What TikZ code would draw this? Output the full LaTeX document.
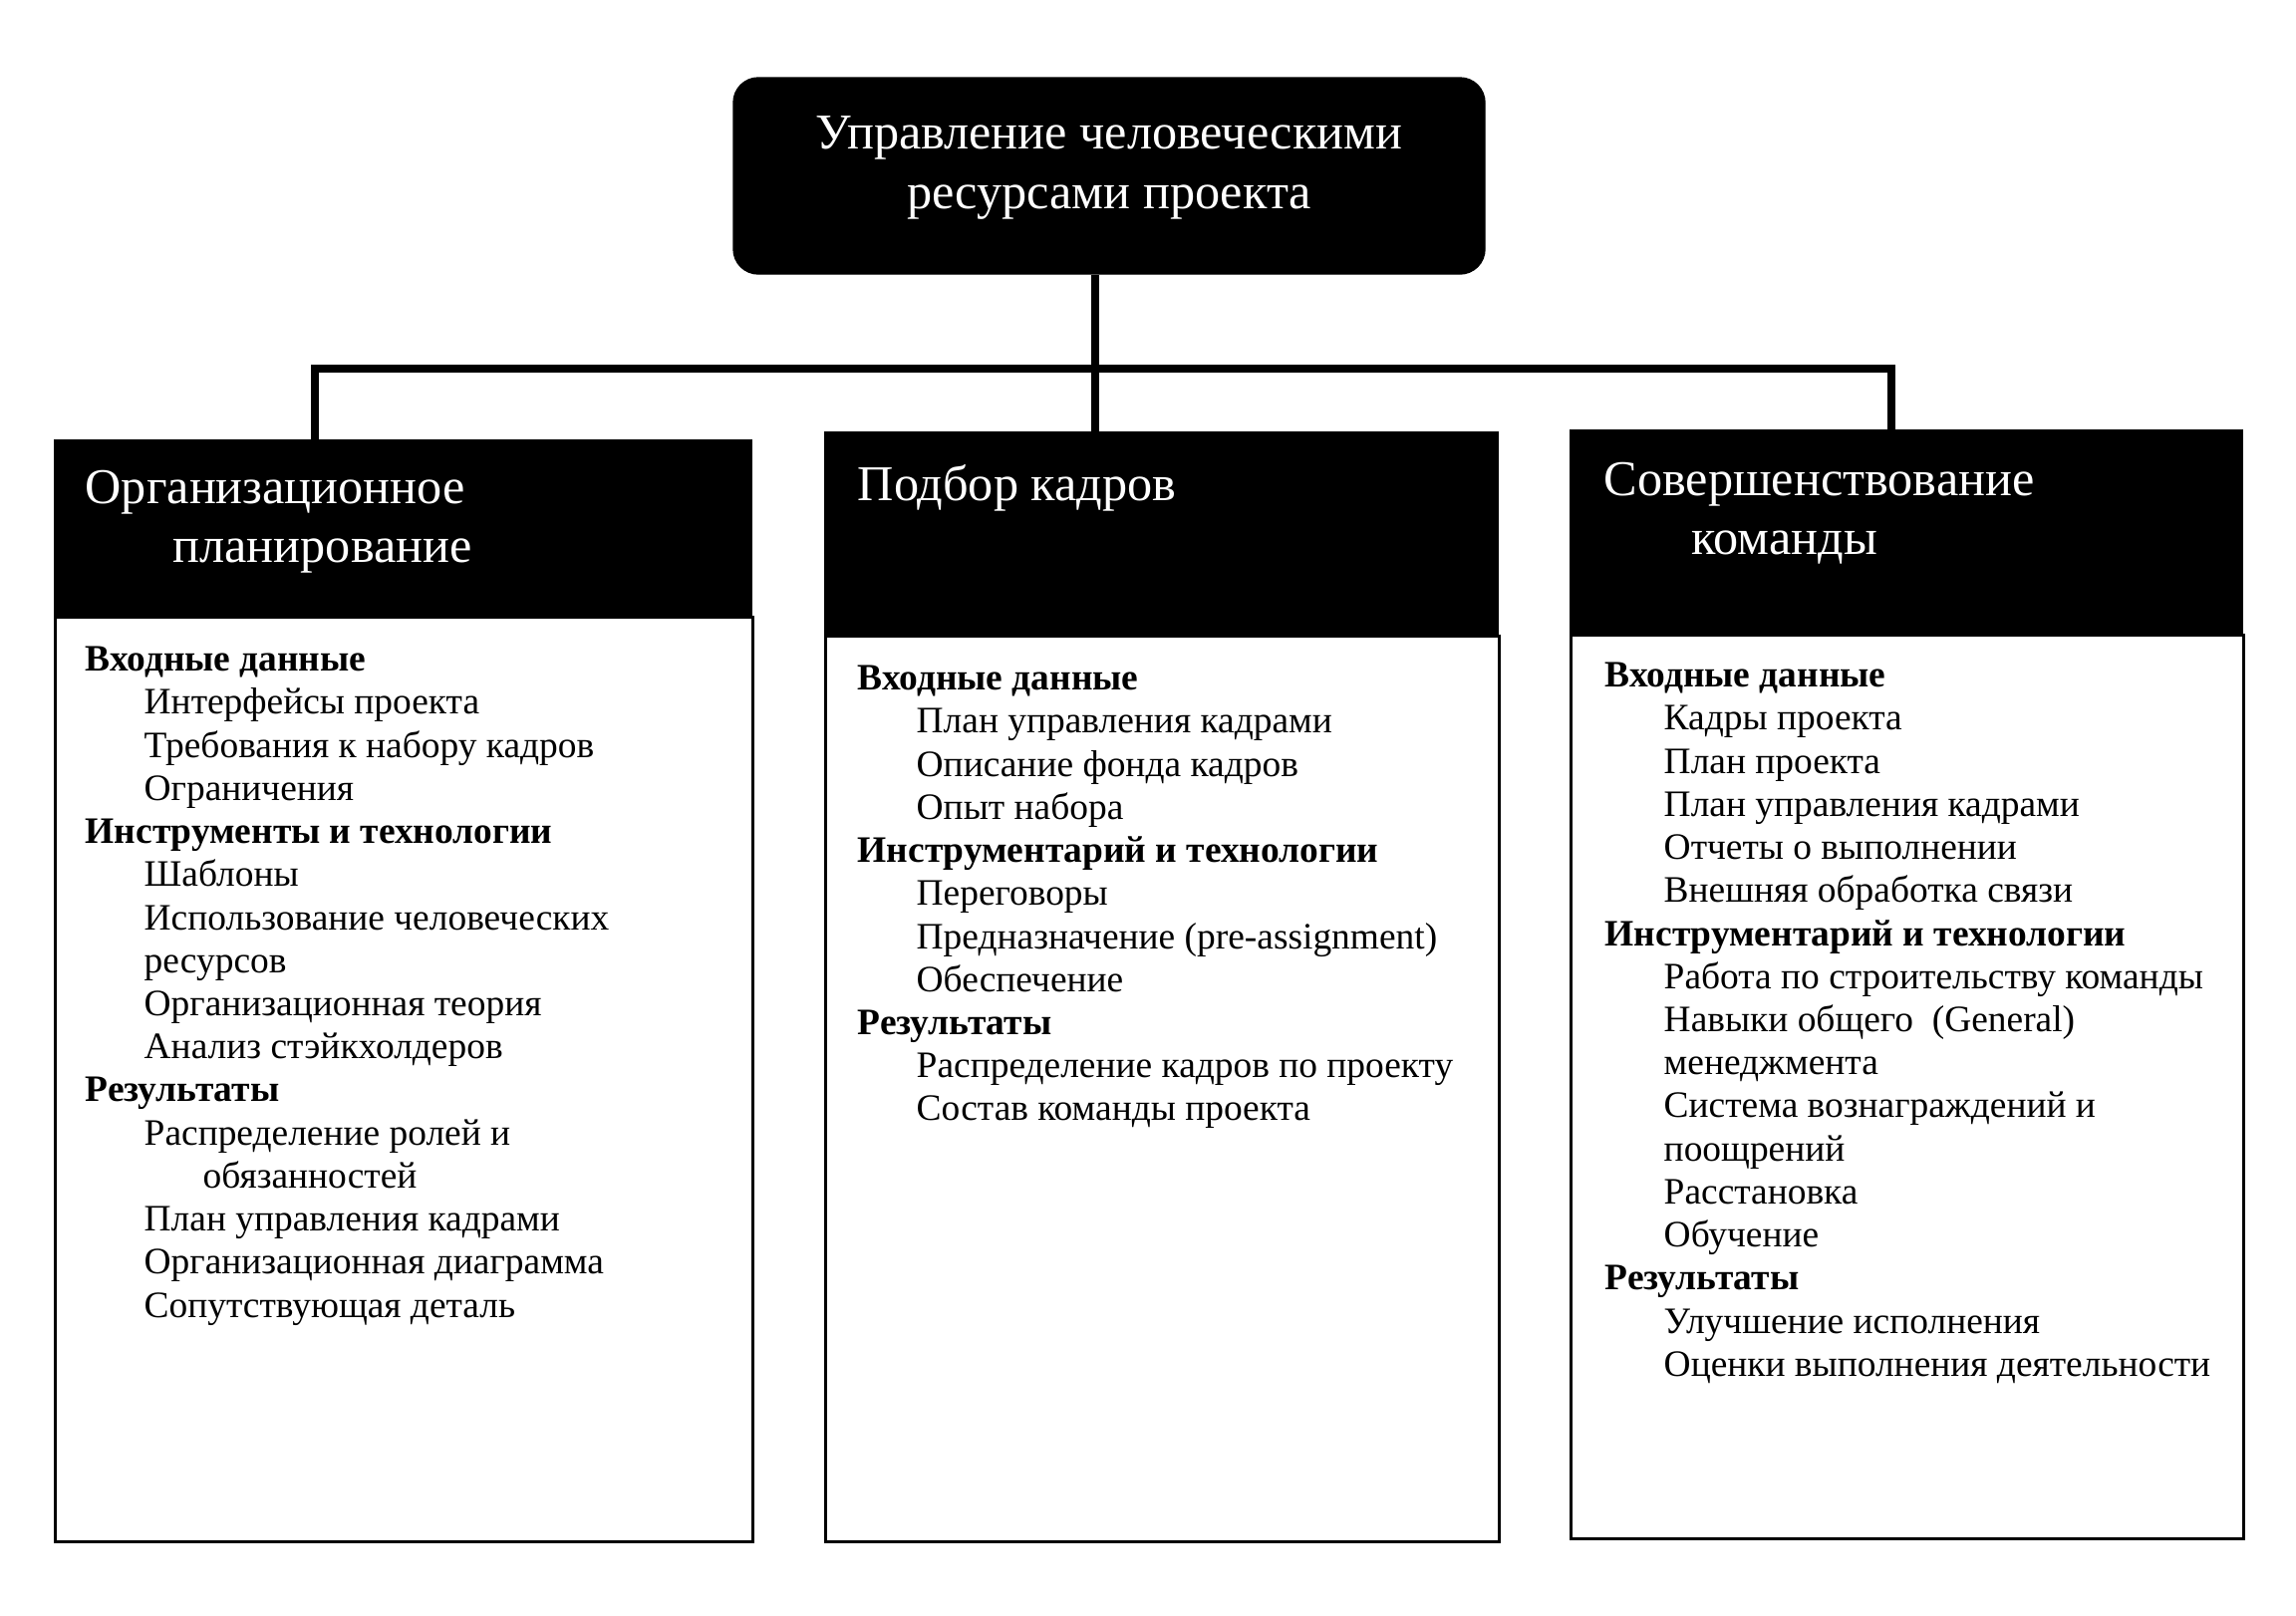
\documentclass[tikz,border=0pt]{standalone}
\usepackage{fontspec}
\setmainfont{Liberation Serif}
\usetikzlibrary{positioning}

\newcommand{\hd}[1]{\textbf{#1}}
\newcommand{\itm}{\hspace*{0.59cm}}

\tikzset{
  bigfont/.style={font=\fontsize{14.3}{16.9}\selectfont},
  smallfont/.style={font=\fontsize{10.65}{12.3}\selectfont},
  hdrbox/.style={draw=black, fill=black, anchor=north west, inner sep=0pt},
  bodybox/.style={draw=black, line width=0.9pt, fill=white, anchor=north west, inner sep=0pt},
  hdrtext/.style={bigfont, text=white, align=left, inner sep=0pt},
  bodytext/.style={smallfont, align=left, inner sep=0pt},
  wire/.style={line width=2.1pt}
}

\begin{document}
\begin{tikzpicture}
\useasboundingbox (0,0) rectangle (23.04,-16.21);

\node[draw=black, fill=black, rounded corners=0.25cm,
      minimum width=7.54cm, minimum height=1.97cm] (HRM) at (11.13,-1.765) {};
\node[bigfont, text=white, align=center] (HRMt) at ([yshift=0.08cm]HRM.center)
      {Управление человеческими\\ ресурсами проекта};

% columns
\node[bodybox, minimum width=7.00cm, minimum height=9.28cm] (B1) at (0.54,-6.18) {};
\node[hdrbox, minimum width=7.00cm, minimum height=1.77cm] (H1) at (0.54,-4.41) {};
\node[bodybox, minimum width=6.76cm, minimum height=9.09cm] (B2) at (8.27,-6.37) {};
\node[hdrbox, minimum width=6.76cm, minimum height=2.04cm] (H2) at (8.27,-4.33) {};
\node[bodybox, minimum width=6.75cm, minimum height=9.07cm] (B3) at (15.75,-6.36) {};
\node[hdrbox, minimum width=6.75cm, minimum height=2.05cm] (H3) at (15.75,-4.31) {};

\node[hdrtext, anchor=north west] (T1) [below right=0.30cm and 0.31cm of H1.north west]
      {Организационное\\ \hspace*{0.88cm}планирование};
\node[hdrtext, anchor=north west] (T2) [below right=0.33cm and 0.33cm of H2.north west]
      {Подбор кадров};
\node[hdrtext, anchor=north west] (T3) [below right=0.32cm and 0.34cm of H3.north west]
      {Совершенствование\\ \hspace*{0.88cm}команды};

\node[bodytext, anchor=north west] (L1) [below right=0.29cm and 0.31cm of H1.south west]
      {\hd{Входные данные}\\
       \itm Интерфейсы проекта\\
       \itm Требования к набору кадров\\
       \itm Ограничения\\
       \hd{Инструменты и технологии}\\
       \itm Шаблоны\\
       \itm Использование человеческих\\
       \itm ресурсов\\
       \itm Организационная теория\\
       \itm Анализ стэйкхолдеров\\
       \hd{Результаты}\\
       \itm Распределение ролей и\\
       \itm\itm обязанностей\\
       \itm План управления кадрами\\
       \itm Организационная диаграмма\\
       \itm Сопутствующая деталь};

\node[bodytext, anchor=north west] (L2) [below right=0.29cm and 0.33cm of H2.south west]
      {\hd{Входные данные}\\
       \itm План управления кадрами\\
       \itm Описание фонда кадров\\
       \itm Опыт набора\\
       \hd{Инструментарий и технологии}\\
       \itm Переговоры\\
       \itm Предназначение (pre-assignment)\\
       \itm Обеспечение\\
       \hd{Результаты}\\
       \itm Распределение кадров по проекту\\
       \itm Состав команды проекта};

\node[bodytext, anchor=north west] (L3) [below right=0.27cm and 0.35cm of H3.south west]
      {\hd{Входные данные}\\
       \itm Кадры проекта\\
       \itm План проекта\\
       \itm План управления кадрами\\
       \itm Отчеты о выполнении\\
       \itm Внешняя обработка связи\\
       \hd{Инструментарий и технологии}\\
       \itm Работа по строительству команды\\
       \itm Навыки общего\ \ (General)\\
       \itm менеджмента\\
       \itm Система вознаграждений и\\
       \itm поощрений\\
       \itm Расстановка\\
       \itm Обучение\\
       \hd{Результаты}\\
       \itm Улучшение исполнения\\
       \itm Оценки выполнения деятельности};

% connectors
\coordinate (busL) at (3.16,-3.70);
\coordinate (busM) at (10.99,-3.70);
\coordinate (busR) at (18.98,-3.70);

\draw [wire] (HRM.south -| busM) -- (H2.north -| busM);
\draw [wire] ([xshift=-1.05pt]busL) -- ([xshift=1.05pt]busR);
\draw [wire] (busL) -- (H1.north -| busL);
\draw [wire] (busR) -- (H3.north -| busR);
\end{tikzpicture}
\end{document}
